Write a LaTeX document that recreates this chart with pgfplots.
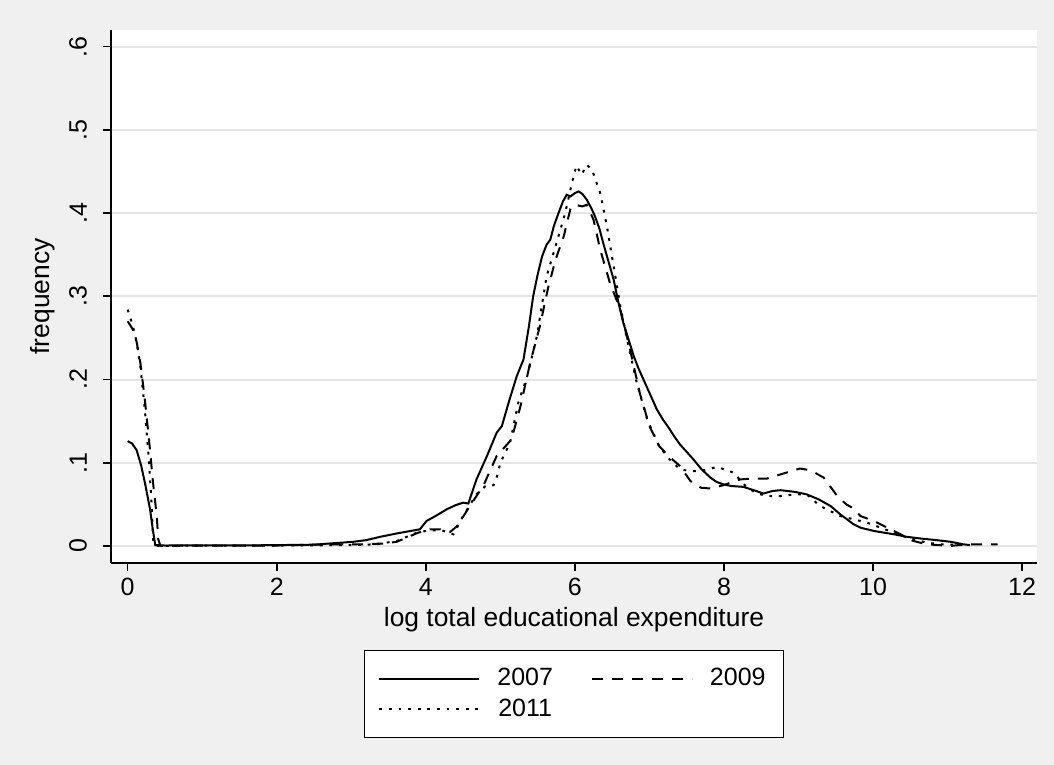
\documentclass[border=0pt]{standalone}
\usepackage{fontspec}
\setmainfont{Liberation Sans}
\usepackage{pgfplots}
\pgfplotsset{compat=1.18}
\definecolor{bg}{gray}{0.94}
\definecolor{gridc}{gray}{0.90}
\begin{document}
\begin{tikzpicture}
\fill[bg] (-55.5bp,-101bp) rectangle (471.5bp,281.5bp);
\begin{axis}[
  scale only axis, width=463bp, height=266.5bp,
  xmin=-0.224, xmax=12.2, ymin=-0.0205, ymax=0.62,
  axis x line*=bottom, axis y line*=left,
  axis background/.style={fill=white},
  axis line style={black, line width=0.8bp},
  tick align=outside, major tick length=4bp,
  tick style={black, line width=0.8bp},
  xtick={0,2,4,6,8,10,12},
  ytick={0,0.1,0.2,0.3,0.4,0.5,0.6},
  yticklabels={0,.1,.2,.3,.4,.5,.6},
  xticklabels={0,2,4,6,8,10,12},
  ymajorgrids, grid style={gridc, line width=1bp},
  /pgf/number format/assume math mode=true,
  ticklabel style={font=\fontsize{12.5bp}{14bp}\selectfont},
  yticklabel style={rotate=90, anchor=south},
  yticklabel shift=4.5bp,
  xlabel={log total educational expenditure},
  ylabel={frequency},
  label style={font=\fontsize{13.2bp}{15bp}\selectfont},
  xlabel style={at={(axis description cs:0.5,-0.107)}, anchor=center},
  ylabel style={at={(axis description cs:-0.0735,0.5)}, anchor=center},
  legend columns=2,
  legend image code/.code={\draw[#1] (0bp,0bp) -- (50bp,0bp); \path (0bp,0bp) (56.5bp,0bp);},
  legend style={at={(axis description cs:0.5,-0.163)}, anchor=north,
    draw=black, fill=white, line width=0.6bp,
    font=\fontsize{12.5bp}{14bp}\selectfont,
    inner xsep=7bp, inner ysep=7bp, row sep=1bp,
    /tikz/every even column/.append style={column sep=17bp}},
]
\addplot[black, line width=1bp] coordinates {
(0,0.126)(0.06,0.123)(0.12,0.115)(0.18,0.097)(0.24,0.072)(0.30,0.044)(0.34,0.018)(0.37,0.001)(0.5,0.0005)(1.0,0.0008)(1.5,0.0006)(2.0,0.001)(2.5,0.0015)(2.72,0.003)(3.03,0.005)(3.2,0.007)(3.39,0.011)(3.61,0.015)(3.92,0.02)(4.01,0.03)(4.15,0.037)(4.28,0.044)(4.4,0.049)(4.50,0.052)(4.57,0.051)(4.68,0.08)(4.82,0.108)(4.95,0.136)(5.02,0.144)(5.12,0.175)(5.22,0.204)(5.31,0.224)(5.38,0.262)(5.44,0.300)(5.50,0.326)(5.56,0.348)(5.62,0.362)(5.67,0.368)(5.72,0.385)(5.78,0.40)(5.84,0.414)(5.89,0.422)(5.94,0.42)(6.0,0.424)(6.05,0.426)(6.1,0.423)(6.16,0.416)(6.22,0.406)(6.27,0.396)(6.33,0.381)(6.38,0.364)(6.45,0.342)(6.52,0.32)(6.58,0.294)(6.65,0.268)(6.72,0.248)(6.79,0.228)(6.85,0.214)(6.92,0.20)(7.0,0.184)(7.10,0.164)(7.18,0.152)(7.26,0.142)(7.33,0.132)(7.41,0.122)(7.5,0.113)(7.59,0.104)(7.7,0.092)(7.82,0.082)(7.9,0.077)(7.99,0.074)(8.1,0.072)(8.26,0.071)(8.4,0.067)(8.53,0.063)(8.65,0.066)(8.76,0.067)(8.95,0.065)(9.11,0.062)(9.27,0.056)(9.43,0.048)(9.56,0.038)(9.65,0.032)(9.74,0.026)(9.83,0.022)(10.01,0.018)(10.28,0.014)(10.45,0.011)(10.63,0.009)(10.85,0.007)(11.04,0.005)(11.21,0.002)(11.3,0.001)
};
\addlegendentry{2007}
\addplot[black, line width=1bp, dash pattern=on 5.5bp off 4.5bp] coordinates {
(0,0.27)(0.07,0.26)(0.12,0.245)(0.17,0.22)(0.23,0.176)(0.29,0.124)(0.34,0.076)(0.39,0.036)(0.41,0.008)(0.44,0.0)(1.0,0.0005)(2.0,0.0005)(2.72,0.002)(3.16,0.002)(3.45,0.003)(3.61,0.005)(3.74,0.01)(3.9,0.016)(4.06,0.02)(4.19,0.02)(4.33,0.017)(4.42,0.024)(4.5,0.035)(4.59,0.048)(4.68,0.06)(4.77,0.072)(4.86,0.09)(4.95,0.108)(5.05,0.118)(5.15,0.128)(5.27,0.168)(5.40,0.22)(5.53,0.264)(5.64,0.31)(5.74,0.344)(5.85,0.372)(5.94,0.405)(6.0,0.41)(6.1,0.408)(6.16,0.41)(6.25,0.392)(6.34,0.356)(6.47,0.316)(6.61,0.284)(6.74,0.236)(6.87,0.184)(7.0,0.144)(7.13,0.12)(7.27,0.107)(7.41,0.096)(7.55,0.078)(7.69,0.07)(7.82,0.069)(7.99,0.073)(8.22,0.08)(8.4,0.081)(8.58,0.081)(8.76,0.086)(9.02,0.093)(9.16,0.091)(9.34,0.082)(9.52,0.06)(9.64,0.05)(9.74,0.045)(9.83,0.036)(10.01,0.03)(10.19,0.022)(10.37,0.014)(10.54,0.006)(10.72,0.002)(11.04,0.0)(11.26,0.002)(11.67,0.002)
};
\addlegendentry{2009}
\addplot[black, line width=1bp, dash pattern=on 1.4bp off 3.4bp] coordinates {
(0,0.284)(0.07,0.264)(0.12,0.245)(0.17,0.216)(0.23,0.164)(0.28,0.108)(0.32,0.052)(0.34,0.008)(0.37,0.0)(1.0,0.0005)(2.0,0.0005)(3.0,0.001)(3.34,0.002)(3.61,0.006)(3.88,0.016)(4.06,0.019)(4.24,0.018)(4.37,0.014)(4.50,0.036)(4.68,0.062)(4.80,0.072)(4.91,0.073)(4.96,0.085)(5.0,0.10)(5.13,0.124)(5.24,0.172)(5.36,0.204)(5.49,0.252)(5.62,0.324)(5.74,0.36)(5.87,0.40)(5.96,0.436)(6.02,0.457)(6.09,0.446)(6.16,0.458)(6.23,0.452)(6.34,0.424)(6.43,0.384)(6.52,0.336)(6.61,0.288)(6.70,0.248)(6.83,0.196)(6.97,0.152)(7.13,0.12)(7.27,0.104)(7.41,0.092)(7.55,0.09)(7.68,0.09)(7.91,0.095)(8.13,0.088)(8.31,0.07)(8.45,0.063)(8.58,0.06)(8.76,0.06)(8.95,0.062)(9.11,0.062)(9.29,0.048)(9.47,0.04)(9.56,0.036)(9.74,0.032)(9.92,0.028)(10.1,0.022)(10.28,0.016)(10.46,0.01)(10.72,0.004)(10.9,0.002)(11.2,0.001)
};
\addlegendentry{2011}
\end{axis}
\pgfresetboundingbox
\useasboundingbox (-55.5bp,-101bp) rectangle (471.5bp,281.5bp);
\end{tikzpicture}
\end{document}
